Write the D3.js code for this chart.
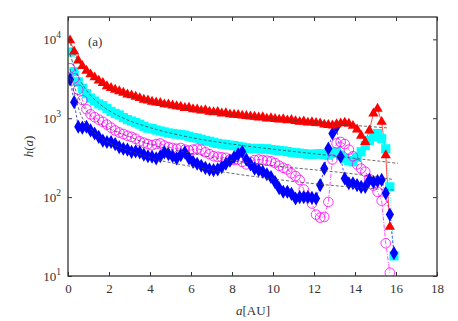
<!DOCTYPE html>
<html>
<head>
<meta charset="utf-8">
<script src="https://cdn.jsdelivr.net/npm/d3@7"></script>
<style>
  body { margin: 0; background: #fff; }
  svg text { font-family: "Liberation Serif", "DejaVu Serif", serif; fill: #333; }
</style>
</head>
<body>
<svg id="chart"></svg>
<script>
// bin centres (AU), shared by all four series
var aBins = [0.1,0.3,0.5,0.7,0.9,1.1,1.3,1.5,1.7,1.9,2.1,2.3,2.5,2.7,2.9,3.1,3.3,3.5,3.7,3.9,
  4.1,4.3,4.5,4.7,4.9,5.1,5.3,5.5,5.7,5.9,6.1,6.3,6.5,6.7,6.9,7.1,7.3,7.5,7.7,7.9,
  8.1,8.3,8.5,8.7,8.9,9.1,9.3,9.5,9.7,9.9,10.1,10.3,10.5,10.7,10.9,11.1,11.3,11.5,11.7,11.9,
  12.1,12.3,12.5,12.7,12.9,13.1,13.3,13.5,13.7,13.9,14.1,14.3,14.5,14.7,14.9,15.1,15.3,15.5,15.7,15.9];

// red triangles
var hRed = [9700,7000,5400,4600,4000,3600,3300,3000,2800,2550,2420,2300,2200,2100,2000,1950,1870,1800,1720,1680,
  1620,1580,1560,1500,1490,1450,1420,1400,1350,1360,1300,1290,1250,1260,1210,1190,1200,1150,1160,1120,
  1110,1100,1080,1070,1050,1045,1020,1030,990,1000,980,960,970,940,950,920,900,910,880,890,
  870,860,830,820,810,840,860,880,850,800,720,600,500,700,1150,1320,900,340,42];

// cyan squares
var hCyan = [6900,3900,2900,2400,2050,1800,1650,1520,1440,1330,1220,1150,1100,1020,960,920,880,840,790,750,
  740,710,690,670,650,640,630,620,610,590,570,560,540,520,510,495,480,470,465,455,
  450,440,430,420,415,410,415,405,410,400,395,390,385,378,370,365,360,355,350,348,
  352,355,345,340,360,375,340,310,290,280,320,375,450,520,580,640,550,410,135,18];

// magenta open circles
var hMag = [4300,3200,2300,1700,1300,1120,1030,960,900,830,760,700,660,630,600,580,550,510,490,470,
  455,470,480,450,430,420,410,420,400,390,400,410,400,370,350,330,325,320,315,300,
  295,300,280,260,280,295,300,295,290,285,270,250,235,225,200,185,165,125,100,83,
  60,55,56,87,300,480,500,470,400,330,260,230,210,170,140,117,90,26,11];

// blue diamonds
var hBlue = [3100,1600,780,760,780,700,640,580,520,500,500,470,430,410,400,375,380,370,345,330,
  325,310,330,370,350,330,310,340,370,310,280,265,250,235,225,220,225,240,265,290,
  320,350,375,300,260,230,220,210,195,180,155,130,117,117,110,96,100,100,100,98,
  96,142,230,413,640,780,325,172,150,150,142,135,135,165,155,160,165,112,60,19.5];

// dashed fit curves
var aFitRed  = [0.1,0.3,0.6,1,1.5,2,3,4,6,8,10,12,14,15.6];
var hFitRed  = [9000,6600,4800,3650,2900,2450,1950,1640,1300,1110,990,890,810,753];
var aFitCyan = [0.1,0.3,0.6,1,1.5,2,3,4,6,8,10,12,14,16.1];
var hFitCyan = [6500,4500,3000,2100,1550,1250,930,760,570,470,405,355,310,268];
var aFitMag  = [0.1,0.3,0.6,1,1.5,2,3,4,6,8,10,12,14,15.8];
var hFitMag  = [4200,2600,1650,1150,880,740,580,470,360,290,250,222,196,168];
var aFitBlue = [0.1,0.3,0.6,1,1.5,2,3,4,6,8,10,12,14,15.9];
var hFitBlue = [3200,2100,1150,790,590,490,385,315,245,200,170,148,133,123];

var xTicks = [0,2,4,6,8,10,12,14,16,18];
var yTicks = [10,100,1000,10000];

var W = 458, H = 321;
var margin = {top: 17, right: 21, bottom: 45, left: 68};
var width = W - margin.left - margin.right;
var height = H - margin.top - margin.bottom;

var svg = d3.select('#chart').attr('width', W).attr('height', H);
var g = svg.append('g').attr('transform', 'translate(' + margin.left + ',' + margin.top + ')');

var x = d3.scaleLinear().domain([0, 18]).range([0, width]);
var y = d3.scaleLog().domain([10, 19200]).range([height, 0]);

g.append('defs').append('clipPath').attr('id', 'clip')
  .append('rect').attr('width', width).attr('height', height);

function pts(a, h) {
  return h.map(function(v, i) { return {a: a[i], h: v}; });
}
var line = d3.line().x(function(d) { return x(d.a); }).y(function(d) { return y(d.h); });
var smooth = d3.line().curve(d3.curveMonotoneX)
  .x(function(d) { return x(d.a); }).y(function(d) { return y(d.h); });

var plot = g.append('g').attr('clip-path', 'url(#clip)');

// connecting lines
plot.append('path').datum(pts(aBins, hCyan)).attr('d', line)
  .attr('fill', 'none').attr('stroke', '#00e5e5').attr('stroke-width', 0.7).attr('stroke-dasharray', '1,1.5');
plot.append('path').datum(pts(aBins, hMag)).attr('d', line)
  .attr('fill', 'none').attr('stroke', '#ff00ff').attr('stroke-width', 0.7).attr('stroke-dasharray', '4,1.5,1,1.5');
plot.append('path').datum(pts(aBins, hBlue)).attr('d', line)
  .attr('fill', 'none').attr('stroke', '#0000ff').attr('stroke-width', 0.7).attr('stroke-dasharray', '2.5,2');
plot.append('path').datum(pts(aBins, hRed)).attr('d', line)
  .attr('fill', 'none').attr('stroke', '#ff0000').attr('stroke-width', 0.7);

// markers
plot.selectAll('.sq').data(pts(aBins, hCyan)).enter().append('rect')
  .attr('x', function(d) { return x(d.a) - 4.6; })
  .attr('y', function(d) { return y(d.h) - 4.6; })
  .attr('width', 9.2).attr('height', 9.2).attr('fill', '#00ffff');

plot.selectAll('.ci').data(pts(aBins, hMag)).enter().append('circle')
  .attr('cx', function(d) { return x(d.a); })
  .attr('cy', function(d) { return y(d.h); })
  .attr('r', 4.8).attr('fill', 'none').attr('stroke', '#ff00ff').attr('stroke-width', 0.8);

var diamond = d3.symbol().type(d3.symbolDiamond).size(58);
plot.selectAll('.di').data(pts(aBins, hBlue)).enter().append('path')
  .attr('d', diamond)
  .attr('transform', function(d) { return 'translate(' + x(d.a) + ',' + y(d.h) + ')'; })
  .attr('fill', '#0000ff');

var tri = d3.symbol().type(d3.symbolTriangle).size(46);
plot.selectAll('.tr').data(pts(aBins, hRed)).enter().append('path')
  .attr('d', tri)
  .attr('transform', function(d) { return 'translate(' + x(d.a) + ',' + y(d.h) + ')'; })
  .attr('fill', '#ff0000');

// fit curves on top
[[aFitRed, hFitRed], [aFitCyan, hFitCyan], [aFitMag, hFitMag], [aFitBlue, hFitBlue]].forEach(function(f) {
  plot.append('path').datum(pts(f[0], f[1])).attr('d', smooth)
    .attr('fill', 'none').attr('stroke', '#444').attr('stroke-width', 0.8)
    .attr('stroke-dasharray', '3,2');
});

// frame
g.append('rect').attr('width', width).attr('height', height)
  .attr('fill', 'none').attr('stroke', '#333').attr('stroke-width', 1.3);

// axes with inward ticks, mirrored
g.append('g').attr('transform', 'translate(0,' + height + ')')
  .call(d3.axisBottom(x).tickValues(xTicks).tickSizeInner(-4).tickSizeOuter(0).tickPadding(8))
  .call(function(s) { s.select('.domain').remove(); });
g.append('g')
  .call(d3.axisTop(x).tickValues(xTicks).tickSizeInner(-4).tickSizeOuter(0).tickFormat(''))
  .call(function(s) { s.select('.domain').remove(); });
g.append('g')
  .call(d3.axisLeft(y).tickValues(yTicks).tickSizeInner(-4).tickSizeOuter(0).tickFormat(''))
  .call(function(s) { s.select('.domain').remove(); });
g.append('g').attr('transform', 'translate(' + width + ',0)')
  .call(d3.axisRight(y).tickValues(yTicks).tickSizeInner(-4).tickSizeOuter(0).tickFormat(''))
  .call(function(s) { s.select('.domain').remove(); });

g.selectAll('.tick line').attr('stroke', '#333');
g.selectAll('.tick text').attr('font-size', 13).attr('font-family', '"Liberation Serif", serif').attr('fill', '#333');

// y tick labels as 10^n
yTicks.forEach(function(v) {
  var t = g.append('text').attr('x', -7).attr('y', y(v) + 5)
    .attr('text-anchor', 'end').attr('font-size', 13);
  t.append('tspan').text('10');
  t.append('tspan').attr('dy', -6).attr('font-size', 9.5).text(Math.round(Math.log10(v)));
});

// axis titles
svg.append('text').attr('x', 253).attr('y', 315).attr('text-anchor', 'middle').attr('font-size', 13)
  .html('<tspan font-style="italic">a</tspan>[AU]');
svg.append('text').attr('transform', 'translate(33,' + (margin.top + height / 2) + ') rotate(-90)')
  .attr('text-anchor', 'middle').attr('font-size', 13)
  .html('<tspan font-style="italic">h</tspan>(<tspan font-style="italic">a</tspan>)');

// panel label
g.append('text').attr('x', 20).attr('y', 29).attr('font-size', 13).text('(a)');
</script>
</body>
</html>
